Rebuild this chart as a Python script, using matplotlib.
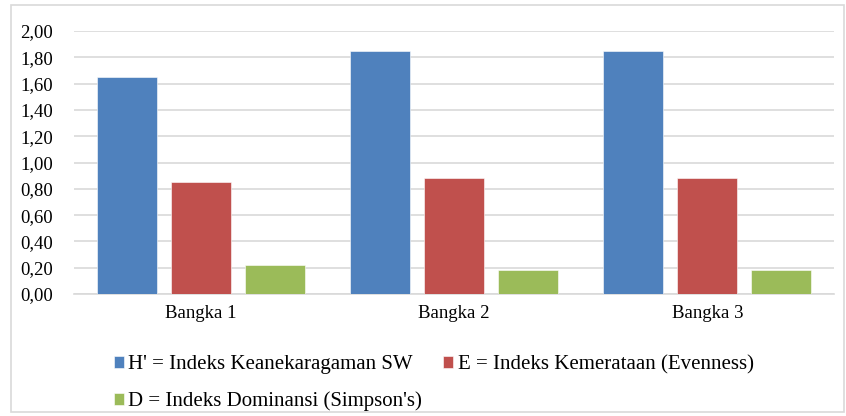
import matplotlib.pyplot as plt
import numpy as np
from matplotlib.patches import Rectangle

# data
sites = ["Bangka 1", "Bangka 2", "Bangka 3"]
h_index = [1.65, 1.85, 1.85]
e_index = [0.85, 0.88, 0.88]
d_index = [0.22, 0.18, 0.18]
labels = ["H' = Indeks Keanekaragaman SW",
          "E = Indeks Kemerataan (Evenness)",
          "D = Indeks Dominansi (Simpson's)"]
colors = ["#4F81BD", "#C0504D", "#9BBB59"]
yticks = np.arange(0, 2.01, 0.2)

plt.rcParams['font.family'] = ['Liberation Serif', 'DejaVu Serif']

fig = plt.figure(figsize=(8.46, 4.16), dpi=100)
ax = fig.add_axes([74/846, 1-294/416, 760/846, 263/416])

x = np.arange(len(sites))
step = 0.292
width = 0.237
bars = []
for i, (vals, c) in enumerate(zip([h_index, e_index, d_index], colors)):
    b = ax.bar(x + (i - 1) * step, vals, width, color=c, zorder=3,
               edgecolor="white", linewidth=0.4)
    bars.append(b)

ax.set_xlim(-0.5, 2.5)
ax.set_ylim(0, 2.0)
ax.set_yticks(yticks)
ax.set_yticklabels([("%.2f" % v).replace(".", ",") for v in yticks], fontsize=13.5)
ax.set_xticks(x)
ax.set_xticklabels(sites, fontsize=13.5)
ax.tick_params(length=0, pad=8)
ax.tick_params(axis="y", pad=15)
ax.yaxis.grid(True, color="#d9d9d9", linewidth=1.2, zorder=0)
for s in ["top", "right", "left"]:
    ax.spines[s].set_visible(False)
ax.spines["bottom"].set_color("#d9d9d9")
ax.spines["bottom"].set_linewidth(1.2)

# legend, row order H, E / D
handles = [bars[0], bars[2], bars[1]]
leg_labels = [labels[0], labels[2], labels[1]]
fig.legend(handles, leg_labels, ncol=2, loc="upper left",
           bbox_to_anchor=(95/846, 1-336/416), frameon=False, fontsize=15,
           handlelength=0.5, handleheight=0.5, handletextpad=0.2,
           columnspacing=1.0, labelspacing=0.85)

fig.add_artist(Rectangle((11/846, 4/416), 833/846, 407/416, transform=fig.transFigure,
                         fill=False, edgecolor="#d9d9d9", linewidth=1.2))

plt.savefig("out.png", dpi=100)
